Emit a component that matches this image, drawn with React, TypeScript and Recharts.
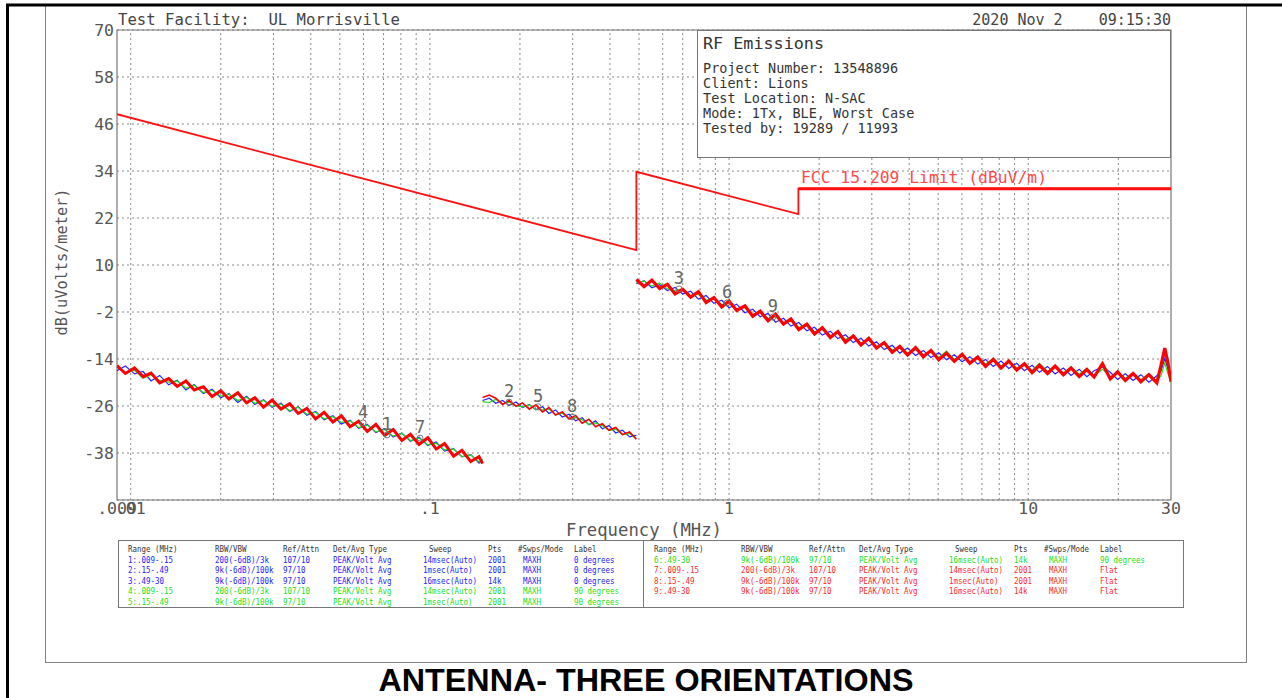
import React from 'react';
import {
    ComposedChart, Line, Scatter, XAxis, YAxis, CartesianGrid,
    ReferenceLine, ReferenceArea,
} from 'recharts';

const W = 1282;
const H = 698;
const PLOT_FONT = '"DejaVu Sans Mono", monospace';

const BLUE = '#2323ff';
const GREEN = '#1fdc1f';
const RED = '#ff0000';

// axes
const yTicks = [-38, -26, -14, -2, 10, 22, 34, 46, 58, 70];
const xTicks = [0.009, 0.01, 0.1, 1, 10, 30];
const xTickLabels = ['.009', '.01', '.1', '1', '10', '30'];
const xGrid = [
    0.01, 0.02, 0.03, 0.04, 0.05, 0.06, 0.07, 0.08, 0.09,
    0.1, 0.2, 0.3, 0.4, 0.5, 0.6, 0.7, 0.8, 0.9,
    1, 2, 3, 4, 5, 6, 7, 8, 9, 10, 20,
];

// FCC 15.209 limit (dBuV/m)
const limitFreq = [0.009, 0.49, 0.49, 1.705, 1.705, 30];
const limitLevel = [48.5, 13.8, 33.8, 23.0, 29.5, 29.5];

// range 1/4/7: .009 - .15 MHz
const seg1Freq = [
    0.009, 0.0096, 0.0103, 0.011, 0.0117, 0.0125, 0.0134, 0.0143, 0.0153, 0.0163,
    0.0175, 0.0187, 0.02, 0.0213, 0.0228, 0.0244, 0.026, 0.0278, 0.0297, 0.0318,
    0.034, 0.0363, 0.0388, 0.0415, 0.0443, 0.0474, 0.0506, 0.0541, 0.0578, 0.0618,
    0.066, 0.0706, 0.0754, 0.0806, 0.0861, 0.092, 0.0984, 0.105, 0.112, 0.12,
    0.128, 0.137, 0.146, 0.15,
];
const seg1Blue = [
    -17.0, -15.8, -17.8, -17.2, -19.6, -18.2, -20.6, -19.4, -21.9, -20.5,
    -22.8, -21.7, -23.9, -22.8, -25.1, -23.5, -25.6, -24.4, -26.3, -25.3,
    -27.4, -26.2, -28.4, -27.4, -29.5, -28.5, -30.6, -29.6, -31.7, -30.7,
    -32.8, -31.8, -33.9, -32.9, -35.0, -34.0, -36.1, -35.2, -37.5, -36.9,
    -39.0, -38.4, -40.6, -39.7,
];
const seg1Green = [
    -16.0, -17.6, -16.9, -18.9, -18.0, -19.5, -19.9, -19.6, -21.5, -20.7,
    -22.6, -22.0, -23.5, -23.0, -24.6, -23.8, -25.3, -24.6, -26.1, -25.5,
    -27.2, -26.3, -28.1, -27.6, -29.3, -28.7, -30.2, -29.8, -31.5, -30.9,
    -32.6, -32.0, -33.7, -33.0, -34.8, -34.2, -35.9, -35.5, -37.2, -37.0,
    -38.9, -38.5, -40.3, -39.6,
];
const seg1Red = [
    -15.7, -17.7, -16.3, -18.5, -17.6, -20.1, -19.0, -21.0, -19.6, -21.9,
    -21.1, -23.6, -22.1, -24.2, -22.6, -25.2, -23.9, -26.3, -24.5, -26.8,
    -25.4, -27.9, -26.6, -29.3, -27.6, -30.1, -28.5, -31.3, -29.9, -32.5,
    -30.7, -33.5, -32.0, -34.8, -33.2, -35.8, -34.1, -37.0, -35.6, -38.8,
    -37.3, -40.2, -38.9, -40.7,
];

// range 2/5/8: .15 - .49 MHz
const seg2Freq = [
    0.15, 0.158, 0.166, 0.175, 0.184, 0.194, 0.204, 0.215, 0.226, 0.238,
    0.25, 0.263, 0.277, 0.292, 0.307, 0.323, 0.34, 0.358, 0.377, 0.397,
    0.418, 0.44, 0.465, 0.49,
];
const seg2Blue = [
    -24.6, -24.0, -25.3, -24.6, -25.9, -25.0, -26.4, -25.6, -27.0, -26.2,
    -27.9, -27.0, -28.8, -28.1, -29.8, -29.0, -30.8, -29.8, -31.8, -31.0,
    -32.9, -32.2, -33.9, -33.5,
];
const seg2Green = [
    -24.9, -25.1, -24.3, -25.5, -25.0, -25.9, -26.2, -25.7, -26.9, -27.0,
    -26.8, -28.2, -27.8, -29.3, -28.9, -29.5, -30.7, -30.3, -31.0, -32.3,
    -31.9, -33.3, -33.0, -34.3,
];
const seg2Red = [
    -23.8, -23.2, -24.0, -25.6, -24.6, -26.1, -25.2, -26.8, -25.7, -27.5,
    -26.4, -28.3, -27.5, -29.3, -28.4, -30.4, -29.4, -31.3, -30.5, -32.2,
    -31.5, -33.3, -32.6, -34.5,
];

// range 3/6/9: .49 - 30 MHz
const seg3Freq = [
    0.49, 0.52, 0.552, 0.586, 0.622, 0.66, 0.7, 0.744, 0.79, 0.838,
    0.89, 0.945, 1.0, 1.06, 1.13, 1.2, 1.27, 1.35, 1.43, 1.52,
    1.61, 1.71, 1.82, 1.93, 2.05, 2.18, 2.31, 2.45, 2.6, 2.76,
    2.93, 3.11, 3.3, 3.51, 3.72, 3.95, 4.2, 4.46, 4.73, 5.02,
    5.33, 5.66, 6.01, 6.38, 6.78, 7.2, 7.64, 8.11, 8.61, 9.15,
    9.71, 10.3, 10.9, 11.6, 12.3, 13.1, 13.9, 14.8, 15.7, 16.6,
    17.7, 18.8, 19.9, 21.1, 22.4, 23.8, 25.3, 26.9, 27.8, 28.6,
    29.3, 30,
];
const seg3Blue = [
    5.2, 6.0, 4.2, 5.0, 3.5, 4.3, 2.6, 3.3, 1.3, 2.2,
    0.2, 1.0, -0.9, 0.0, -2.2, -1.3, -3.2, -2.4, -4.6, -3.6,
    -5.6, -4.7, -6.8, -5.9, -7.9, -6.9, -8.8, -7.8, -9.8, -8.7,
    -10.7, -9.6, -11.6, -10.5, -12.5, -11.2, -13.1, -11.8, -13.6, -12.4,
    -14.2, -12.9, -14.7, -13.4, -15.3, -14.1, -15.9, -14.5, -16.4, -15.1,
    -17.0, -15.6, -17.4, -15.9, -17.8, -16.3, -18.2, -16.6, -18.5, -17.0,
    -16.0, -17.4, -19.2, -17.8, -19.5, -18.0, -19.9, -18.3, -17.0, -13.8,
    -16.5, -19.0,
];
const seg3Green = [
    5.5, 5.9, 4.6, 5.4, 3.9, 3.4, 3.9, 2.1, 2.5, 1.0,
    1.6, -0.1, 0.4, -1.2, -0.9, -2.6, -2.0, -3.6, -3.2, -4.9,
    -4.2, -5.9, -5.4, -7.1, -6.4, -8.0, -7.4, -9.0, -8.3, -9.9,
    -9.2, -10.8, -10.1, -11.7, -11.0, -12.5, -11.6, -13.0, -12.1, -13.6,
    -12.0, -14.1, -13.3, -14.7, -13.7, -15.3, -14.0, -15.8, -14.8, -16.4,
    -15.0, -16.9, -15.1, -17.2, -15.9, -17.6, -16.0, -17.9, -16.4, -18.3,
    -16.6, -18.6, -17.4, -19.0, -17.6, -19.3, -17.8, -19.6, -18.2, -15.0,
    -17.8, -19.9,
];
const seg3Red = [
    6.3, 4.5, 6.1, 4.0, 5.1, 2.6, 3.8, 1.8, 3.2, 0.4,
    1.7, -0.7, 0.8, -1.6, -0.4, -3.1, -1.8, -4.2, -2.5, -5.1,
    -3.8, -6.5, -5.1, -7.6, -6.0, -8.5, -7.0, -9.7, -8.1, -10.4,
    -8.7, -11.2, -9.8, -12.3, -10.8, -13.0, -11.1, -13.4, -11.8, -14.2,
    -12.5, -14.6, -12.8, -15.1, -13.5, -15.9, -14.1, -16.3, -14.5, -16.8,
    -15.2, -17.5, -15.6, -17.7, -15.8, -18.0, -16.3, -18.5, -16.7, -18.6,
    -15.2, -19.1, -17.3, -19.5, -17.7, -19.8, -18.0, -20.1, -15.5, -11.2,
    -15.0, -19.8,
];

// markers
const markerNames = ['1', '2', '3', '4', '5', '6', '7', '8', '9'];
const markerFreq = [0.0719, 0.184, 0.68, 0.0598, 0.23, 0.985, 0.0927, 0.299, 1.40];
const markerLevel = [-33.4, -25.0, 3.9, -30.3, -26.2, 0.3, -34.2, -28.8, -3.3];

// header / info texts
const facilityText = 'Test Facility:  UL Morrisville';
const dateText = '2020 Nov 2    09:15:30';
const infoTitle = 'RF Emissions';
const infoLines = [
    'Project Number: 13548896',
    'Client: Lions',
    'Test Location: N-SAC',
    'Mode: 1Tx, BLE, Worst Case',
    'Tested by: 19289 / 11993',
];
const limitLabel = 'FCC 15.209 Limit (dBuV/m)';
const yLabel = 'dB(uVolts/meter)';
const xLabel = 'Frequency (MHz)';
const pageTitle = 'ANTENNA- THREE ORIENTATIONS';

// setup table
const tableHeaders = ['Range (MHz)', 'RBW/VBW', 'Ref/Attn', 'Det/Avg Type', 'Sweep', 'Pts', '#Swps/Mode', 'Label'];
const tableRows = [
    ['1:.009-.15', '200(-6dB)/3k', '107/10', 'PEAK/Volt Avg', '14msec(Auto)', '2001', 'MAXH', '0 degrees'],
    ['2:.15-.49', '9k(-6dB)/100k', '97/10', 'PEAK/Volt Avg', '1msec(Auto)', '2001', 'MAXH', '0 degrees'],
    ['3:.49-30', '9k(-6dB)/100k', '97/10', 'PEAK/Volt Avg', '16msec(Auto)', '14k', 'MAXH', '0 degrees'],
    ['4:.009-.15', '200(-6dB)/3k', '107/10', 'PEAK/Volt Avg', '14msec(Auto)', '2001', 'MAXH', '90 degrees'],
    ['5:.15-.49', '9k(-6dB)/100k', '97/10', 'PEAK/Volt Avg', '1msec(Auto)', '2001', 'MAXH', '90 degrees'],
    ['6:.49-30', '9k(-6dB)/100k', '97/10', 'PEAK/Volt Avg', '16msec(Auto)', '14k', 'MAXH', '90 degrees'],
    ['7:.009-.15', '200(-6dB)/3k', '107/10', 'PEAK/Volt Avg', '14msec(Auto)', '2001', 'MAXH', 'Flat'],
    ['8:.15-.49', '9k(-6dB)/100k', '97/10', 'PEAK/Volt Avg', '1msec(Auto)', '2001', 'MAXH', 'Flat'],
    ['9:.49-30', '9k(-6dB)/100k', '97/10', 'PEAK/Volt Avg', '16msec(Auto)', '14k', 'MAXH', 'Flat'],
];
const tableColors = [BLUE, BLUE, BLUE, '#22e022', '#22e022', '#22e022', '#ff2a2a', '#ff2a2a', '#ff2a2a'];

const pts = (freqs: number[], vals: number[]) => freqs.map((f, i) => ({ f, v: vals[i] }));
// svg collapses runs of spaces, the plotter text keeps them
const keepSpaces = (s: string) => s.replace(/ /g, '\u00a0');

const traces = [
    { key: 's1b', data: pts(seg1Freq, seg1Blue), color: BLUE, w: 1.2 },
    { key: 's2b', data: pts(seg2Freq, seg2Blue), color: BLUE, w: 1.2 },
    { key: 's3b', data: pts(seg3Freq, seg3Blue), color: BLUE, w: 1.2 },
    { key: 's1g', data: pts(seg1Freq, seg1Green), color: GREEN, w: 1.2 },
    { key: 's2g', data: pts(seg2Freq, seg2Green), color: GREEN, w: 1.2 },
    { key: 's3g', data: pts(seg3Freq, seg3Green), color: GREEN, w: 1.2 },
    { key: 's1r', data: pts(seg1Freq, seg1Red), color: RED, w: 3 },
    { key: 's2r', data: pts(seg2Freq, seg2Red), color: RED, w: 1.6 },
    { key: 's3r', data: pts(seg3Freq, seg3Red), color: RED, w: 3.2 },
];

const limitData = pts(limitFreq, limitLevel);
const markerData = markerNames.map((n, i) => ({ f: markerFreq[i], v: markerLevel[i], n }));

const MarkerShape = (props: any) => {
    const { cx, cy, payload } = props;
    return (
        <g>
            <circle cx={cx} cy={cy} r={3} fill="none" stroke="#777" strokeWidth={1} />
            <text x={cx} y={cy - 5} textAnchor="middle" fontFamily={PLOT_FONT} fontSize={17} fill="#666">
                {payload.n}
            </text>
        </g>
    );
};

// condensed plotter-style text for the setup table
const CHAR_W = 4.5;
const colX = [10, 97, 165, 215, 305, 370, 400, 456];

function Cell({ x, y, text, fill }: { x: number; y: number; text: string; fill: string }) {
    return (
        <text
            x={x}
            y={y}
            fill={fill}
            fontFamily={PLOT_FONT}
            fontSize={9}
            textLength={text.length * CHAR_W}
            lengthAdjust="spacingAndGlyphs"
        >
            {keepSpaces(text)}
        </text>
    );
}

function TableHalf({ x, rows }: { x: number; rows: number[] }) {
    return (
        <g>
            {tableHeaders.map((h, c) => (
                <Cell key={h} x={x + colX[c] + (c === 4 ? 6 : 0)} y={551.5} text={h} fill="#333" />
            ))}
            {rows.map((r, i) => tableRows[r].map((cell, c) => (
                <Cell key={`${r}-${c}`} x={x + colX[c] + (c === 6 ? 5 : 0)} y={562.5 + i * 10.5} text={cell} fill={tableColors[r]} />
            )))}
        </g>
    );
}

export default function App() {
    const tickStyle = { fill: '#555', fontSize: 16.5, fontFamily: PLOT_FONT };
    return (
        <div style={{ position: 'absolute', left: 0, top: 0, width: W, height: H, background: '#fff', overflow: 'hidden' }}>
            <ComposedChart width={W} height={H} margin={{ top: 30, right: 111, bottom: 168, left: 57 }}>
                <CartesianGrid vertical={false} stroke="#8a8a8a" strokeDasharray="2 3" />
                {xGrid.map((g) => (
                    <ReferenceLine key={g} x={g} stroke="#8a8a8a" strokeDasharray="2 3" />
                ))}
                <XAxis
                    dataKey="f"
                    type="number"
                    scale="log"
                    domain={[0.009, 30]}
                    allowDataOverflow
                    ticks={xTicks}
                    interval={0}
                    tickFormatter={(v: number) => xTickLabels[xTicks.indexOf(v)] ?? String(v)}
                    tick={tickStyle}
                    tickLine={false}
                    axisLine={false}
                    tickSize={0}
                    tickMargin={2}
                    height={30}
                />
                <YAxis
                    dataKey="v"
                    type="number"
                    domain={[-50, 70]}
                    allowDataOverflow
                    ticks={yTicks}
                    interval={0}
                    tick={tickStyle}
                    tickLine={false}
                    axisLine={false}
                    tickSize={0}
                    tickMargin={3}
                    width={60}
                />
                <ReferenceArea x1={0.009} x2={30} y1={-50} y2={70} fill="none" stroke="#777" strokeWidth={1.2} />
                {traces.map((t) => (
                    <Line
                        key={t.key}
                        data={t.data}
                        dataKey="v"
                        type="linear"
                        stroke={t.color}
                        strokeWidth={t.w}
                        dot={false}
                        isAnimationActive={false}
                    />
                ))}
                <Line data={limitData} dataKey="v" type="linear" stroke="#ff1010" strokeWidth={1.8} dot={false} isAnimationActive={false} />
                <Line data={limitData.slice(4)} dataKey="v" type="linear" stroke="#ff1010" strokeWidth={3} dot={false} isAnimationActive={false} />
                <Scatter data={markerData} dataKey="v" shape={MarkerShape} isAnimationActive={false} />
            </ComposedChart>

            <svg width={W} height={H} style={{ position: 'absolute', left: 0, top: 0, pointerEvents: 'none' }}>
                <rect x={45.5} y={5.5} width={1201} height={657} fill="none" stroke="#808080" strokeWidth={1} />
                <line x1={6} y1={5} x2={W} y2={5} stroke="#000" strokeWidth={3} />
                <line x1={7.5} y1={4} x2={7.5} y2={H} stroke="#000" strokeWidth={3} />

                <g fontFamily={PLOT_FONT} fill="#444">
                    <text x={118} y={25} fontSize={15} textLength={282} lengthAdjust="spacingAndGlyphs">{keepSpaces(facilityText)}</text>
                    <text x={1171} y={25} fontSize={15} textAnchor="end">{keepSpaces(dateText)}</text>
                </g>

                <rect x={697.5} y={30.5} width={473} height={127} fill="#fff" stroke="#777" />
                <g fontFamily={PLOT_FONT} fill="#333">
                    <text x={703} y={49} fontSize={16} textLength={121} lengthAdjust="spacingAndGlyphs">{infoTitle}</text>
                    {infoLines.map((l, i) => (
                        <text key={l} x={703} y={73 + i * 15} fontSize={13.5}>{l}</text>
                    ))}
                </g>

                <text x={801} y={183} fontFamily={PLOT_FONT} fontSize={15} fill="#ff4a4a" textLength={246} lengthAdjust="spacingAndGlyphs">
                    {limitLabel}
                </text>

                <text
                    x={0}
                    y={0}
                    transform="translate(67 262) rotate(-90)"
                    textAnchor="middle"
                    fontFamily={PLOT_FONT}
                    fontSize={15}
                    fill="#555"
                    textLength={147}
                    lengthAdjust="spacingAndGlyphs"
                >
                    {yLabel}
                </text>
                <text x={644} y={536} textAnchor="middle" fontFamily={PLOT_FONT} fontSize={17} fill="#555" textLength={156} lengthAdjust="spacingAndGlyphs">
                    {xLabel}
                </text>

                <rect x={118.5} y={540.5} width={1065} height={67} fill="#fff" stroke="#777" />
                <line x1={643.5} y1={541} x2={643.5} y2={607} stroke="#777" />
                <TableHalf x={118} rows={[0, 1, 2, 3, 4]} />
                <TableHalf x={644} rows={[5, 6, 7, 8]} />

                <text
                    x={646}
                    y={691}
                    textAnchor="middle"
                    fontFamily='"Liberation Sans Narrow", "Liberation Sans", Arial, sans-serif'
                    fontWeight="bold"
                    fontSize={32}
                    fill="#000"
                    textLength={535}
                    lengthAdjust="spacingAndGlyphs"
                >
                    {pageTitle}
                </text>
            </svg>
        </div>
    );
}
